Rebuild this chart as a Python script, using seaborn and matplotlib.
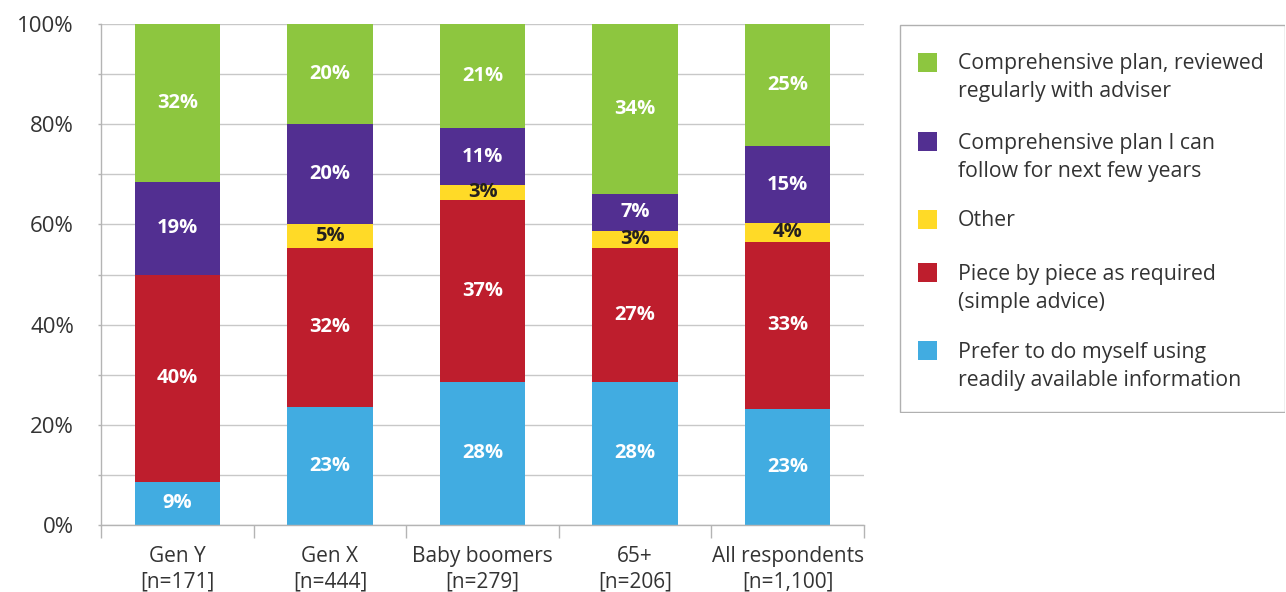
import numpy as np
import matplotlib
matplotlib.use("Agg")
import matplotlib.pyplot as plt
import seaborn as sns
from matplotlib.patches import Rectangle
from matplotlib.ticker import FixedLocator, FuncFormatter

groups = ["Gen Y\n[n=171]", "Gen X\n[n=444]", "Baby boomers\n[n=279]",
          "65+\n[n=206]", "All respondents\n[n=1,100]"]

# shares (%), bottom segment first
diy = [8.6, 23.6, 28.6, 28.6, 23.2]
piece = [41.3, 31.7, 36.3, 26.7, 33.3]
other = [0.0, 4.8, 3.0, 3.4, 3.8]
plan_follow = [18.6, 19.9, 11.3, 7.4, 15.3]
plan_adviser = [31.5, 20.0, 20.8, 33.9, 24.4]

# the rounded numbers printed on the bars
diy_lbl = [9, 23, 28, 28, 23]
piece_lbl = [40, 32, 37, 27, 33]
other_lbl = [None, 5, 3, 3, 4]
follow_lbl = [19, 20, 11, 7, 15]
adviser_lbl = [32, 20, 21, 34, 25]

names = ["Prefer to do myself using\nreadily available information",
         "Piece by piece as required\n(simple advice)",
         "Other",
         "Comprehensive plan I can\nfollow for next few years",
         "Comprehensive plan, reviewed\nregularly with adviser"]
colors = ["#41ACE1", "#BE1E2D", "#FFDA27", "#522F91", "#8DC63F"]
text_colors = ["white", "white", "#231F20", "white", "white"]

series = [diy, piece, other, plan_follow, plan_adviser]
labels = [diy_lbl, piece_lbl, other_lbl, follow_lbl, adviser_lbl]

sns.set_style("white")
plt.rcParams["font.family"] = ["Open Sans", "DejaVu Sans"]
grey = "#b4b4b4"
txt = "#333333"

fig = plt.figure(figsize=(12.86, 5.92), dpi=100)
ax = fig.add_axes([101 / 1286, 67 / 592, 763 / 1286, 501 / 592])

cum = np.cumsum(np.array(series), axis=0)
# stack by overlaying cumulative bars, tallest first
for i in reversed(range(len(series))):
    sns.barplot(x=groups, y=cum[i], color=colors[i], saturation=1, width=0.56,
                errorbar=None, linewidth=0, ax=ax, zorder=2)

for i in range(len(series)):
    for j in range(len(groups)):
        if labels[i][j] is None:
            continue
        mid = cum[i][j] - series[i][j] / 2
        ax.text(j, mid, f"{labels[i][j]}%", ha="center", va="center",
                color=text_colors[i], fontsize=14.5, fontweight="bold", zorder=3)

ax.set_xlim(-0.5, len(groups) - 0.5)
ax.set_ylim(0, 100)
ax.set_xlabel("")
ax.set_ylabel("")
ax.set_axisbelow(True)

ax.yaxis.set_major_locator(FixedLocator(np.arange(0, 101, 10)))
ax.yaxis.set_major_formatter(FuncFormatter(lambda v, p: f"{int(v)}%" if int(round(v)) % 20 == 0 else ""))
ax.grid(axis="y", color="#c8c8c8", linewidth=1.0)
ax.tick_params(axis="y", length=2.5, width=1, color=grey, pad=17, labelsize=16, labelcolor=txt, left=True)

ax.set_xticks(range(len(groups)))
ax.set_xticklabels(groups, linespacing=1.3)
ax.set_xticks(np.arange(-0.5, len(groups), 1.0), minor=True)
ax.tick_params(axis="x", which="major", length=0, pad=15, labelsize=15, labelcolor=txt)
ax.tick_params(axis="x", which="minor", length=9.5, width=1, color=grey, bottom=True)

for s in ["top", "right"]:
    ax.spines[s].set_visible(False)
for s in ["left", "bottom"]:
    ax.spines[s].set_color(grey)
    ax.spines[s].set_linewidth(1)

# legend drawn in its own box to the right
lax = fig.add_axes([899 / 1286, 179 / 592, 386 / 1286, 389 / 592])
lax.set_xlim(0, 386)
lax.set_ylim(389, 0)
lax.axis("off")
lax.add_patch(Rectangle((0.5, 0.5), 385, 388, fill=False, edgecolor="#b0b0b0", linewidth=1))
entry_y = [38, 117.5, 195, 248.5, 327]
for k, i in enumerate(reversed(range(len(series)))):
    y = entry_y[k]
    lax.add_patch(Rectangle((19, y - 9.5), 19, 19, facecolor=colors[i], edgecolor="none"))
    for n, line in enumerate(names[i].split("\n")):
        lax.text(59, y + 2 + n * 28, line, ha="left", va="center", fontsize=15.3, color=txt)

fig.savefig("out.png", dpi=100)
